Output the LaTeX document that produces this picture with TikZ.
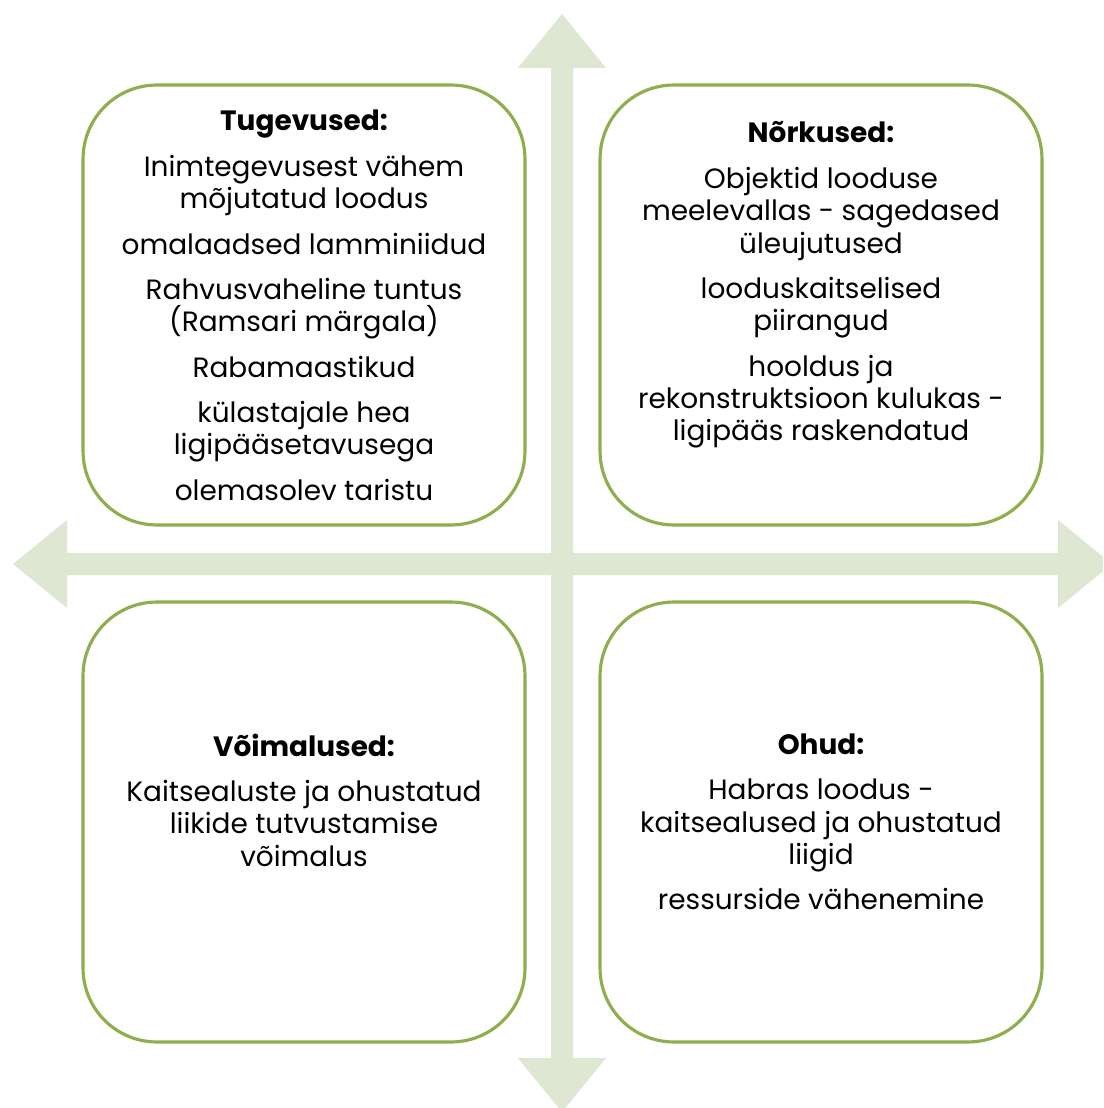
\documentclass[tikz,border=0pt]{standalone}
\usepackage{fontspec}
\setmainfont{Poppins}
\usepackage{tikz}
\usetikzlibrary{positioning}
\definecolor{boxgreen}{HTML}{8FAF4F}
\definecolor{crossgreen}{HTML}{DEE7D2}

\tikzset{
  quad/.style={draw=boxgreen, line width=1.8pt, rounded corners=42pt,
    minimum width=8.84cm, minimum height=8.8cm},
  words/.style={align=center, font=\fontsize{15.9}{18.4}\selectfont}
}

\begin{document}
\begin{tikzpicture}[x=0.02cm,y=-0.02cm]
\clip (0,0) rectangle (1103,1108);
\fill[white] (0,0) rectangle (1103,1108);
% the cross
\fill[crossgreen] (551,68)--(518,68)--(562,14)--(606,68)--(573,68)--(573,1058)--(606,1058)--(562,1112)--(518,1058)--(551,1058)--cycle;
\fill[crossgreen] (67,553)--(67,520)--(13,564)--(67,608)--(67,575)--(1058,575)--(1058,608)--(1112,564)--(1058,520)--(1058,553)--cycle;
% the four boxes
\node[quad] (str) at (304,305) {};
\node[quad] (weak) at (821,305) {};
\node[quad] (opp) at (304,822) {};
\node[quad] (thr) at (821,822) {};
% texts
\node[words] (strtext) at (304,305) {\textbf{Tugevused:}\\[7.8pt]
Inimtegevusest vähem\\ mõjutatud loodus\\[7.4pt]
omalaadsed lamminiidud\\[7.4pt]
Rahvusvaheline tuntus\\ (Ramsari märgala)\\[7.4pt]
Rabamaastikud\\[7.4pt]
külastajale hea\\ ligipääsetavusega\\[7.4pt]
olemasolev taristu};
\node[words] (weaktext) at (821,285) {\textbf{Nõrkused:}\\[7.6pt]
Objektid looduse\\ meelevallas - sagedased\\ üleujutused\\[7.4pt]
looduskaitselised\\ piirangud\\[7.4pt]
hooldus ja\\ rekonstruktsioon kulukas -\\ ligipääs raskendatud};
\node[words] (opptext) at (304,800) {\textbf{Võimalused:}\\[7.4pt]
Kaitsealuste ja ohustatud\\ liikide tutvustamise\\ võimalus};
\node[words] (thrtext) at (821,822) {\textbf{Ohud:}\\[7.4pt]
Habras loodus -\\ kaitsealused ja ohustatud\\ liigid\\[7.4pt]
ressurside vähenemine};
\end{tikzpicture}
\end{document}
